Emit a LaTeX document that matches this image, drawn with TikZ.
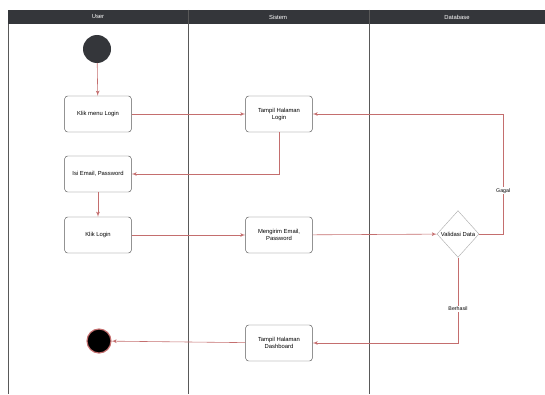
\documentclass[tikz,border=0pt]{standalone}
\usepackage{fontspec}
\setmainfont{Liberation Sans}
\usetikzlibrary{arrows,shapes.geometric}
\definecolor{garis}{RGB}{196,110,110}
\definecolor{kepala}{RGB}{52,54,58}
\tikzset{aksi/.style = {shape = rectangle, rounded corners = 2.5pt, draw = gray!70!black, fill = white, minimum width = 2cm, minimum height = 1.08cm, align = center, font = \fontsize{5}{6}\selectfont}}
\tikzset{keputusan/.style = {shape = diamond, draw = gray!60, fill = white, minimum width = 1.26cm, minimum height = 1.4cm, inner sep = 0pt, font = \fontsize{5}{6}\selectfont}}
\tikzset{alur/.style = {->, > = latex', draw = garis, line width = 0.5pt}}
\tikzset{lajur/.style = {draw = gray!70!black, line width = 0.8pt}}
\tikzset{ket/.style = {fill = white, inner sep = 1pt, font = \fontsize{4.5}{5}\selectfont}}

\begin{document}
\begin{tikzpicture}[x = 0.03cm, y = -0.03cm]
			\useasboundingbox (0, 0) rectangle (545, 394);
			\fill[kepala] (8, 10) rectangle (545, 24);
			\draw[lajur] (8, 24) -- (8, 394);
			\draw[lajur] (188, 10) -- (188, 394);
			\draw[lajur] (369, 10) -- (369, 394);
			\node[text = white, font = \fontsize{5}{6}\selectfont] (hu) at (98, 17) {User};
			\node[text = white, font = \fontsize{5}{6}\selectfont] (hs) at (278, 17) {Sistem};
			\node[text = white, font = \fontsize{5}{6}\selectfont] (hd) at (457, 17) {Database};

			\node[circle, fill = kepala, minimum size = 0.84cm] (s) at (97, 49) {};
			\node[aksi] (a) at (98, 114) {Klik menu Login};
			\node[aksi] (b) at (279, 114) {Tampil Halaman\\Login};
			\node[aksi] (c) at (98, 174) {Isi Email, Password};
			\node[aksi] (d) at (98, 235) {Klik Login};
			\node[aksi] (e) at (279, 235) {Mengirim Email,\\Password};
			\node[keputusan] (v) at (458, 234) {Validasi Data};
			\node[aksi] (f) at (279, 343) {Tampil Halaman\\Dashboard};
			\node[circle, fill = black, draw = garis, line width = 1pt, minimum size = 0.72cm] (z) at (99, 341) {};

			\draw[alur] (s) -- (a);
			\draw[alur] (a) -- (b);
			\draw[alur] (b) |- (c);
			\draw[alur] (c) -- (d);
			\draw[alur] (d) -- (e);
			\draw[alur] (e) -- (v);
			\draw[alur] (v.east) -- ++(24, 0) |- (b) node[ket, pos = 0.18] {Gagal};
			\draw[alur] (v) |- (f) node[ket, pos = 0.3] {Berhasil};
			\draw[alur] (f) -- (z);
		\end{tikzpicture}
\end{document}
